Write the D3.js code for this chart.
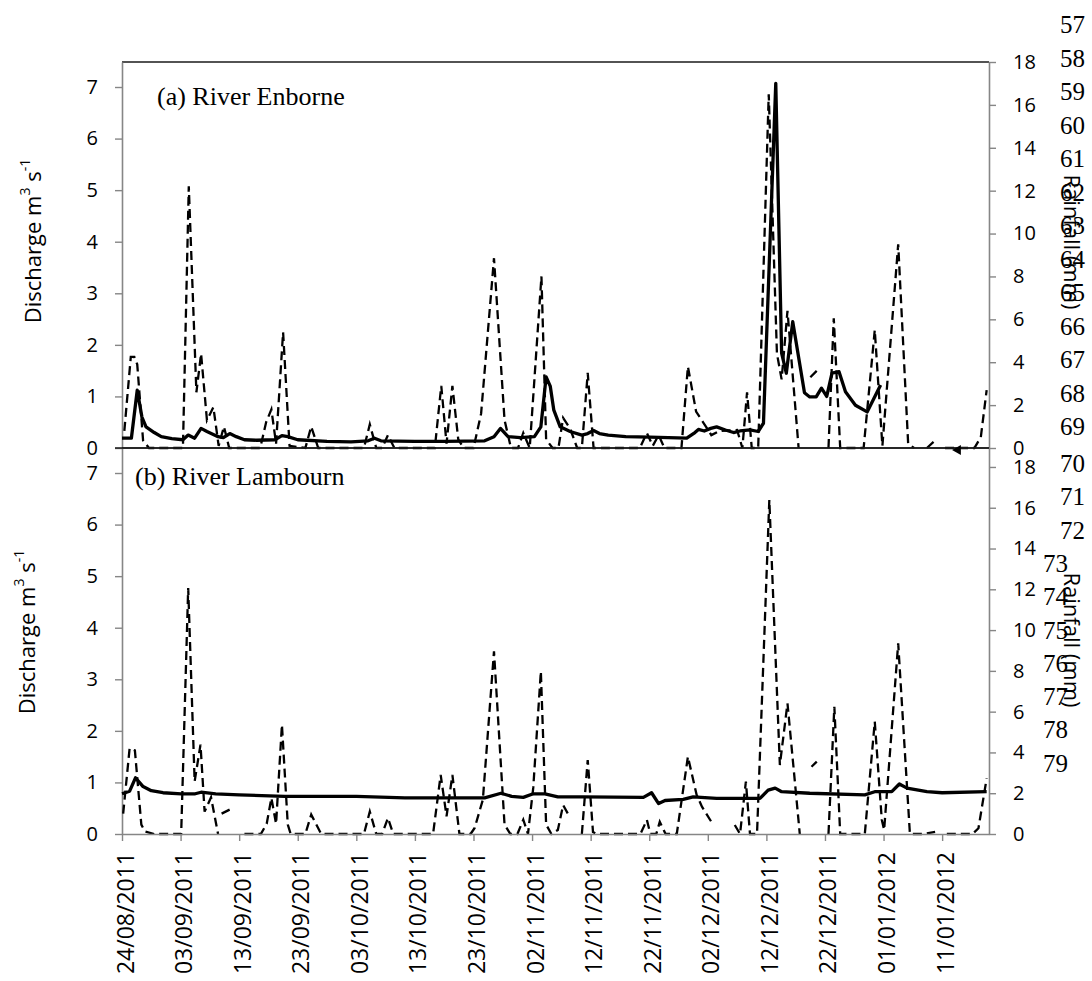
<!DOCTYPE html>
<html>
<head>
<meta charset="utf-8">
<script src="https://cdn.jsdelivr.net/npm/d3@7"></script>
<style>
  html, body { margin: 0; padding: 0; background: #fff; }
  svg { display: block; }
  .tick-label { font-family: "Open Sans", sans-serif; font-size: 20px; fill: #000; }
  .date-label { font-family: "Open Sans", sans-serif; font-size: 23px; fill: #000; }
  .axis-title { font-family: "Open Sans", sans-serif; font-size: 22px; fill: #000; }
  .panel-title { font-family: "Liberation Serif", "Times New Roman", serif; font-size: 26px; fill: #000; }
  .line-number { font-family: "Liberation Serif", "Times New Roman", serif; font-size: 25px; fill: #000; }
</style>
</head>
<body>
<svg id="chart" width="1092" height="981"></svg>
<script>
// days counted from 24/08/2011 (day 0)
const enborneRainDays = [0.4, 1.5, 2.1, 2.6, 3.6, 4.6, 10.4, 11.4, 12.7, 13.5, 14.5, 15.6, 16.5, 17.4, 18.3,
  23.6, 24.6, 25.5, 26.3, 27.5, 28.6, 31.3, 32.3, 33.5, 41.3, 42.3, 43.4, 44.4, 45.4, 46.5,
  53.4, 54.5, 55.4, 56.4, 57.4, 58.3, 60.0, 61.3, 63.5, 65.3, 66.4, 67.6, 68.5, 69.6, 70.4, 71.6, 72.4, 73.5,
  74.5, 75.3, 76.5, 77.7, 78.5, 79.5, 80.5, 88.4, 89.6, 90.6, 91.6, 92.6, 95.5, 96.6, 98.0, 99.2, 100.6,
  102.0, 105.0, 105.9, 106.7, 107.5, 108.6, 110.4, 111.8, 112.6, 113.6, 115.5, 116.5, 117.5, 118.6, 119.6,
  120.6, 121.5, 122.6, 126.6, 128.5, 129.8, 132.5, 134.2, 135.2, 136.3, 137.4, 138.6, 139.5, 140.5, 145.5,
  146.6, 147.6];
const enborneRain = [0.8, 4.25, 4.25, 3.9, 0.35, 0, 0, 12.2, 2.6, 4.4, 1.3, 1.9, 0.1, 1.0, 0,
  0, 1.2, 1.8, 0.2, 5.4, 0.1, 0, 1.0, 0, 0, 1.1, 0, 0, 0.6, 0,
  0, 2.9, 0.2, 2.9, 0.4, 0, 0, 1.6, 8.85, 1.3, 0, 0, 0.7, 0, 3.2, 8.0, 0.4, 0,
  0, 1.4, 0.9, 0, 0, 3.5, 0, 0, 0.7, 0.1, 0.6, 0, 0, 3.8, 1.7, 1.2, 0.6,
  0.8, 0.84, 0, 2.6, 0, 0, 16.5, 4.4, 3.2, 6.4, 0, null, 3.3, 3.6, null,
  0, 6.05, 0, 0, 5.5, 0.1, 9.5, 0.2, 0, null, 0, 0.3, null, 0, 0,
  0.5, 2.7];

const enborneFlowDays = [0, 1.6, 2.6, 3.4, 4.1, 5.5, 6.7, 8.5, 10.4, 11.3, 12.4, 13.5, 14.5, 16.4, 17.3, 18.4,
  19.5, 20.9, 23.0, 26.1, 27.3, 28.3, 30.0, 35.0, 39.1, 42.0, 43.1, 44.2, 50.0, 55.0, 61.9, 63.5, 64.6,
  65.9, 68.0, 70.4, 71.5, 72.4, 73.1, 73.7, 74.8, 76.5, 78.5, 79.5, 80.5, 81.5, 83.0, 86.0, 90.1, 96.4,
  97.8, 98.4, 99.4, 100.5, 101.5, 103.0, 104.4, 105.5, 107.2, 108.6, 109.5, 111.6, 112.6, 113.4, 114.5,
  116.5, 117.4, 118.5, 119.4, 120.3, 121.2, 122.4, 123.5, 125.2, 127.2, 129.5];
const enborneFlow = [0.19, 0.19, 1.12, 0.6, 0.41, 0.3, 0.22, 0.18, 0.16, 0.25, 0.19, 0.38, 0.32, 0.22, 0.2, 0.28,
  0.22, 0.16, 0.15, 0.16, 0.24, 0.22, 0.16, 0.13, 0.12, 0.14, 0.19, 0.14, 0.13, 0.13, 0.14, 0.22, 0.38,
  0.22, 0.2, 0.22, 0.41, 1.38, 1.2, 0.74, 0.41, 0.32, 0.25, 0.28, 0.34, 0.28, 0.25, 0.22, 0.21, 0.19,
  0.3, 0.36, 0.33, 0.38, 0.41, 0.35, 0.3, 0.33, 0.35, 0.32, 0.48, 7.07, 1.84, 1.45, 2.45,
  1.07, 0.99, 0.99, 1.16, 1.0, 1.45, 1.48, 1.09, 0.83, 0.7, 1.22];

const lambournRainDays = [0.2, 1.3, 2.2, 3.3, 3.9, 5.5, 10.1, 11.3, 12.4, 13.4, 14.1, 15.2, 16.4, 16.7, 17.0, 18.4,
  18.7, 20.9, 23.7, 24.7, 25.5, 26.3, 27.3, 28.3, 28.8, 31.3, 32.3, 34.0, 41.3, 42.3, 43.4, 44.4, 45.4, 46.3,
  53.1, 54.4, 55.4, 56.4, 57.6, 59.5, 60.2, 61.6, 63.5, 65.3, 66.3, 67.5, 68.5, 69.3, 70.2, 71.5, 72.4, 73.3,
  74.4, 75.3, 76.3, 77.4, 78.5, 79.5, 80.4, 81.0, 88.5, 89.6, 90.2, 91.2, 91.8, 92.8, 94.7, 96.6, 98.1, 99.0,
  100.6, 102.6, 104.6, 105.5, 106.5, 107.2, 108.4, 110.5, 112.3, 113.6, 115.7, 116.7, 117.7, 118.6, 119.6,
  120.6, 121.6, 122.6, 126.8, 128.5, 129.7, 130.1, 132.5, 134.5, 136.8, 138.8, 139.8, 140.8, 145.2, 146.2, 147.6];
const lambournRain = [1.0, 4.2, 4.1, 0.46, 0.13, 0, 0, 12.06, 2.58, 4.38, 1.1, 1.8, 0, null, 1.0, 1.2,
  null, 0, 0, 0.5, 1.77, 0.5, 5.36, 0.46, 0, 0, 0.95, 0, 0, 1.1, 0, 0, 0.78, 0,
  0, 2.9, 0.87, 2.9, 0, 0, 0.3, 1.68, 8.96, 0.46, 0, 0, 0.7, 0, 2.26, 7.98, 0.46, 0,
  0.2, 1.42, 0.9, null, 0, 3.63, 0.1, 0, 0, 0.69, 0, 0, 0.6, 0, 0, 3.79, 1.91, 1.34,
  0.6, null, 0.44, 0, 2.57, 0, 0, 16.38, 3.38, 6.41, 0, null, 3.3, 3.55, null,
  0, 6.24, 0, 0, 5.51, 0.69, 0.2, 9.35, 0, 0, 0.1, null, 0, 0, 0.28, 2.73];

const lambournFlowDays = [0, 1.3, 2.3, 3.6, 5.0, 7.0, 10.1, 12.5, 13.5, 16.0, 20.0, 27.8, 40.0, 48.3, 61.9,
  64.7, 66.5, 68.5, 70.2, 72.2, 74.4, 78.8, 89.0, 90.4, 91.6, 92.7, 95.8, 97.5, 101.5, 106.1, 108.9,
  110.3, 111.5, 112.6, 117.4, 126.8, 128.5, 131.4, 132.7, 134.0, 137.4, 140.0, 147.6];
const lambournFlow = [0.78, 0.83, 1.09, 0.92, 0.84, 0.8, 0.78, 0.78, 0.81, 0.78, 0.76, 0.73, 0.73, 0.7, 0.7,
  0.79, 0.73, 0.71, 0.78, 0.78, 0.72, 0.72, 0.71, 0.8, 0.59, 0.65, 0.67, 0.72, 0.69, 0.69, 0.69,
  0.85, 0.89, 0.82, 0.79, 0.76, 0.82, 0.82, 0.97, 0.89, 0.82, 0.8, 0.82];

const enborneMarkerDay = 142.7;

const dateTickDays = [0, 10, 20, 30, 40, 50, 60, 70, 80, 90, 100, 110, 120, 130, 140];
const flowTicks = [0, 1, 2, 3, 4, 5, 6, 7];
const rainTicks = [0, 2, 4, 6, 8, 10, 12, 14, 16, 18];
const lineNumbers = [57, 58, 59, 60, 61, 62, 63, 64, 65, 66, 67, 68, 69, 70, 71, 72, 73, 74, 75, 76, 77, 78, 79];

const startUtc = Date.UTC(2011, 7, 24);
const dayToDate = (d) => new Date(startUtc + d * 864e5);
const pairs = (days, values) => days.map((d, i) => ({ date: dayToDate(d), value: values[i] }));

const svg = d3.select("#chart");
const axisGrey = "#868686";

const x = d3.scaleUtc()
  .domain([dayToDate(0), dayToDate(148)])
  .range([122, 989]);

const panels = [
  {
    title: "(a) River Enborne", titleX: 157, titleY: 105,
    top: 62, bottom: 448, rainMax: 18, flowMax: 7.485,
    rain: pairs(enborneRainDays, enborneRain),
    flow: pairs(enborneFlowDays, enborneFlow),
    leftLabelX: 32, leftLabelY: 241, rightLabelY: 242
  },
  {
    title: "(b) River Lambourn", titleX: 135, titleY: 485,
    top: 448, bottom: 834, rainMax: 18.93, flowMax: 7.485,
    rain: pairs(lambournRainDays, lambournRain),
    flow: pairs(lambournFlowDays, lambournFlow),
    leftLabelX: 26, leftLabelY: 632, rightLabelY: 640
  }
];

function styleAxis(g, labelClass = "tick-label") {
  g.select(".domain").attr("stroke", axisGrey).attr("stroke-width", 1.6);
  g.selectAll(".tick line").attr("stroke", axisGrey).attr("stroke-width", 1.4);
  g.selectAll(".tick text").attr("class", labelClass).attr("fill", "#000");
}

function drawPanel(p) {
  const yFlow = d3.scaleLinear().domain([0, p.flowMax]).range([p.bottom, p.top]);
  const yRain = d3.scaleLinear().domain([0, p.rainMax]).range([p.bottom, p.top]);
  p.yFlow = yFlow;

  // top border of the plot area
  svg.append("line")
    .attr("x1", x.range()[0]).attr("x2", x.range()[1])
    .attr("y1", p.top).attr("y2", p.top)
    .attr("stroke", "#1a1a1a").attr("stroke-width", 1.6);

  svg.append("g")
    .attr("transform", `translate(${x.range()[0]},0)`)
    .call(d3.axisLeft(yFlow).tickValues(flowTicks).tickSize(7).tickSizeOuter(0).tickPadding(17))
    .call(styleAxis);

  svg.append("g")
    .attr("transform", `translate(${x.range()[1]},0)`)
    .call(d3.axisRight(yRain).tickValues(rainTicks).tickSize(7).tickSizeOuter(0).tickPadding(17))
    .call(styleAxis);

  const rainLine = d3.line()
    .defined((d) => d.value != null)
    .x((d) => x(d.date))
    .y((d) => yRain(d.value));

  const flowLine = d3.line()
    .defined((d) => d.value != null)
    .x((d) => x(d.date))
    .y((d) => yFlow(d.value));

  svg.append("path")
    .datum(p.rain)
    .attr("fill", "none")
    .attr("stroke", "#000")
    .attr("stroke-width", 2.3)
    .attr("stroke-dasharray", "9,5")
    .attr("d", rainLine);

  svg.append("path")
    .datum(p.flow)
    .attr("fill", "none")
    .attr("stroke", "#000")
    .attr("stroke-width", 3.3)
    .attr("stroke-linejoin", "round")
    .attr("d", flowLine);

  svg.append("text")
    .attr("class", "panel-title")
    .attr("x", p.titleX)
    .attr("y", p.titleY)
    .text(p.title);

  const leftLabel = svg.append("text")
    .attr("class", "axis-title")
    .attr("text-anchor", "middle")
    .attr("dominant-baseline", "central")
    .attr("transform", `translate(${p.leftLabelX},${p.leftLabelY}) rotate(-90)`);
  leftLabel.append("tspan").text("Discharge m");
  leftLabel.append("tspan").attr("font-size", "14px").attr("dy", "-8").text("3");
  leftLabel.append("tspan").attr("dy", "8").text(" s");
  leftLabel.append("tspan").attr("font-size", "14px").attr("dy", "-8").text("-1");

  svg.append("text")
    .attr("class", "axis-title")
    .attr("text-anchor", "middle")
    .attr("dominant-baseline", "central")
    .attr("transform", `translate(1073,${p.rightLabelY}) rotate(90)`)
    .text("Rainfall (mm)");
}

panels.forEach(drawPanel);

// black base line of the upper panel
svg.append("line")
  .attr("x1", 115).attr("x2", x.range()[1])
  .attr("y1", panels[0].bottom).attr("y2", panels[0].bottom)
  .attr("stroke", "#1a1a1a").attr("stroke-width", 1.6);

// stray marker near the end of the Enborne record
svg.append("path")
  .attr("d", d3.symbol(d3.symbolTriangle, 45)())
  .attr("transform", `translate(${x(dayToDate(enborneMarkerDay))},${panels[0].yFlow(0) + 2}) rotate(-90)`)
  .attr("fill", "#000");

// date axis under the lower panel
const xAxis = svg.append("g")
  .attr("transform", `translate(0,${panels[1].bottom})`)
  .call(d3.axisBottom(x).tickValues(dateTickDays.map(dayToDate)).tickSize(7).tickSizeOuter(0)
    .tickFormat(d3.utcFormat("%d/%m/%Y")))
  .call(styleAxis, "date-label");

xAxis.selectAll(".tick text")
  .attr("text-anchor", "end")
  .attr("dominant-baseline", "central")
  .attr("transform", "translate(2,18) rotate(-90)")
  .attr("x", 0)
  .attr("y", 0)
  .attr("dy", null);

// manuscript line numbers showing at the right edge
svg.append("g")
  .selectAll("text")
  .data(lineNumbers)
  .join("text")
  .attr("class", "line-number")
  .attr("x", (n) => (n >= 73 ? 1043 : 1060))
  .attr("y", (n) => (n < 70 ? 33 + (n - 57) * 33.5 : 472 + (n - 70) * 33.3))
  .text((n) => n);
</script>
</body>
</html>
